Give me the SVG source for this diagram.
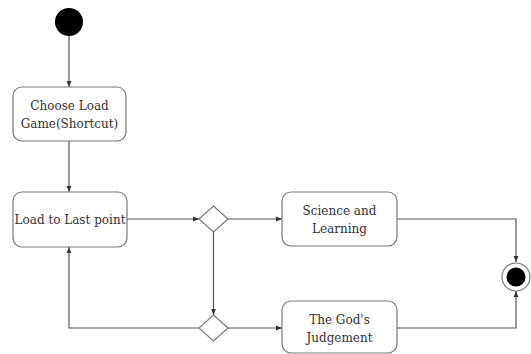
<svg xmlns="http://www.w3.org/2000/svg" width="531" height="354" viewBox="0 0 531 354">
<style>
.box{fill:#fff;stroke:#7a7a7a;stroke-width:1.2}
.dia{fill:#fff;stroke:#7a7a7a;stroke-width:1.2}
.edge{fill:none;stroke:#555;stroke-width:1.2}
.lbl{font-family:'DejaVu Serif',serif;font-size:12px;fill:#333;text-anchor:middle}
</style>
<defs>
<marker id="arr" viewBox="0 0 10 10" refX="10" refY="5" markerWidth="6" markerHeight="6" orient="auto" markerUnits="userSpaceOnUse">
<path d="M0,1 L10,5 L0,9 z" fill="#333"/>
</marker>
</defs>
<g id="connectors">
<path class="edge" d="M69,36 V87" marker-end="url(#arr)"/>
<path class="edge" d="M69,141 V192" marker-end="url(#arr)"/>
<path class="edge" d="M127,219 H199" marker-end="url(#arr)"/>
<path class="edge" d="M228,219 H282" marker-end="url(#arr)"/>
<path class="edge" d="M213.5,232 V315" marker-end="url(#arr)"/>
<path class="edge" d="M199,328 H69 V247" marker-end="url(#arr)"/>
<path class="edge" d="M228,328 H282" marker-end="url(#arr)"/>
<path class="edge" d="M397,219 H516 V262" marker-end="url(#arr)"/>
<path class="edge" d="M397,328 H516 V291" marker-end="url(#arr)"/>
</g>
<g id="start"><circle cx="69" cy="22" r="14" fill="#000"/></g>
<g id="choose">
<rect class="box" x="13" y="87" width="113" height="54" rx="9"/>
<text class="lbl" x="69.5" y="110">Choose Load</text>
<text class="lbl" x="69.5" y="128">Game(Shortcut)</text>
</g>
<g id="load">
<rect class="box" x="13" y="192" width="114" height="55" rx="9"/>
<text class="lbl" x="70" y="224">Load to Last point</text>
</g>
<g id="decision1"><polygon class="dia" points="213.5,206 228,219 213.5,232 199,219"/></g>
<g id="decision2"><polygon class="dia" points="213.5,315 228,328 213.5,341 199,328"/></g>
<g id="science">
<rect class="box" x="282" y="192" width="115" height="54" rx="9"/>
<text class="lbl" x="339.5" y="215">Science and</text>
<text class="lbl" x="339.5" y="233">Learning</text>
</g>
<g id="god">
<rect class="box" x="282" y="301" width="115" height="52" rx="9"/>
<text class="lbl" x="339.5" y="324">The God's</text>
<text class="lbl" x="339.5" y="342">Judgement</text>
</g>
<g id="end">
<circle cx="516" cy="277" r="14" fill="#fff" stroke="#7a7a7a" stroke-width="1.2"/>
<circle cx="516" cy="277" r="9.5" fill="#000"/>
</g>
</svg>
